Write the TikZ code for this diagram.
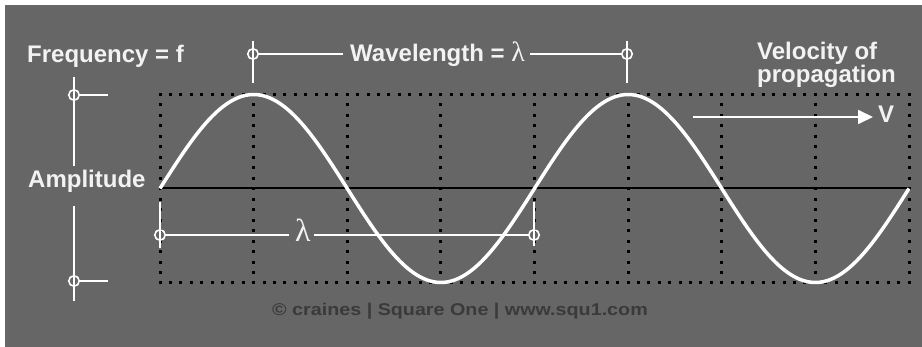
\documentclass[tikz,border=0pt]{standalone}
\usepackage{fontspec}
\setmainfont{Liberation Sans}
\newfontfamily\serifgreek{Liberation Serif}
\usetikzlibrary{arrows.meta}
\definecolor{bgray}{RGB}{102,102,102}
\definecolor{txt}{RGB}{242,242,242}
\definecolor{copyc}{RGB}{58,58,58}
\begin{document}
\begin{tikzpicture}[x=1pt,y=-1pt,
  lbl/.style={inner sep=0pt, anchor=base west, text=txt, font=\fontsize{24}{21}\selectfont\bfseries},
  mk/.style={circle, draw=white, line width=1.6pt, minimum size=10.5pt, inner sep=0pt},
  wline/.style={draw=white, line width=1.8pt},
  lam/.style={inner sep=0pt, text=txt, anchor=base},
]
\useasboundingbox (0,0) rectangle (922,347);
\fill[white] (0,0) rectangle (922,347);
\fill[bgray] (5,5) rectangle (922,347);
% dotted grid
\foreach \i in {0,...,72} {
  \fill[black] ({160+\i*10.403-1.5},93) rectangle +(3,3);
  \fill[black] ({160+\i*10.403-1.5},281.5) rectangle +(3,3);
}
\foreach \c in {0,...,8} {
  \foreach \j in {1,...,17} {
    \fill[black] ({160+\c*93.625-1.5},{94.5+\j*10.472-1.5}) rectangle +(3,3);
  }
}
% axis
\draw[black, line width=2pt] (160,188.5) -- (909,188.5);
% wave
\draw[white, line width=3.5pt, line join=round]
  plot[domain=160:909, samples=220, smooth] (\x, {188.5-94*sin((\x-160)*0.961282)});
% texts
\node[lbl] (freq) at (27,63) {Frequency = f};
\node[lbl] (wl) at (350,62) {Wavelength = {\serifgreek\mdseries\fontsize{28}{28}\selectfont λ}};
\node[lbl, align=left] (vel) at (757,83) {Velocity of\\propagation};
\node[lbl] (vv) at (878,123) {V};
\node[lbl] (amp) at (28,188) {Amplitude};
\node[lam, font=\serifgreek\fontsize{32}{32}\selectfont] (lam2) at (303,242) {λ};
\node[inner sep=0pt, anchor=base, text=copyc, font=\fontsize{17}{17}\selectfont\bfseries] (copy) at (460,316)
  {\scalebox{1.16}[1]{© craines | Square One | www.squ1.com}};
% wavelength markers (top)
\node[mk] (wa) at (253,54) {};
\node[mk] (wb) at (627,54) {};
\draw[wline] (253,41) -- (253,83);
\draw[wline] (627,41) -- (627,83);
\draw[wline] (wa) -- ([xshift=-7pt]wl.west |- wa);
\draw[wline] ([xshift=5pt]wl.east |- wb) -- (wb);
% wavelength markers (lower)
\node[mk] (la) at (160,235) {};
\node[mk] (lb) at (534,235) {};
\draw[wline] (160,202) -- (160,248);
\draw[wline] (534,202) -- (534,246);
\draw[wline] (la) -- ([xshift=-6pt]lam2.west |- la);
\draw[wline] ([xshift=3pt]lam2.east |- lb) -- (lb);
% amplitude markers
\node[mk] (aa) at (74,95) {};
\node[mk] (ab) at (74,281) {};
\coordinate (aae) at (108,95);
\coordinate (abe) at (108,281);
\draw[wline] (aa) -- (aae);
\draw[wline] (ab) -- (abe);
\draw[wline] (74,77) -- (74,166);
\draw[wline] (74,206) -- (74,301);
% velocity arrow
\coordinate (arrs) at (693,117);
\draw[wline, -{Triangle[length=15pt,width=14pt]}] (arrs) -- ([xshift=-5pt]vv.west |- arrs);
\end{tikzpicture}
\end{document}
